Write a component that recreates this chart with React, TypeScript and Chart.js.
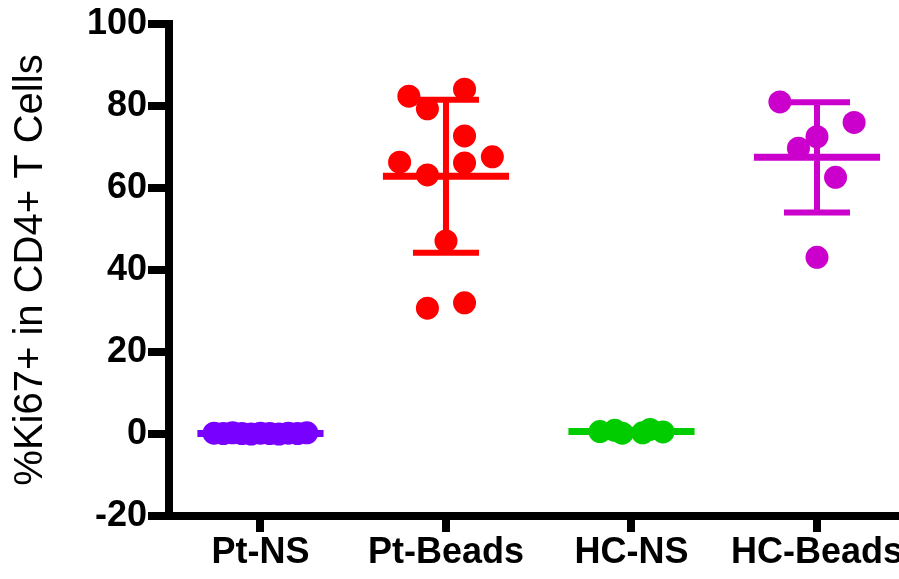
import React, { useEffect, useRef } from 'react';
import { Chart, registerables } from 'chart.js';

Chart.register(...registerables);

// ---- data ----
const categories = ['Pt-NS', 'Pt-Beads', 'HC-NS', 'HC-Beads'];
const groupColors = ['#7700FF', '#FF0000', '#00CC00', '#CC00CC'];

const ptNsValues = [0.2, 0.1, 0.3, 0.1, 0.0, 0.2, 0.1, 0.0, 0.2, 0.1, 0.3];
const ptNsJitter = [-0.25, -0.2, -0.15, -0.1, -0.05, 0, 0.05, 0.1, 0.15, 0.2, 0.25];

const ptBeadsValues = [82.4, 84.1, 79.3, 72.7, 66.3, 67.6, 66.1, 63.2, 47.1, 30.7, 32.0];
const ptBeadsJitter = [-0.2, 0.1, -0.1, 0.1, -0.25, 0.25, 0.1, -0.1, 0, -0.1, 0.1];

const hcNsValues = [0.6, 0.9, 0.2, 0.3, 1.1, 0.5];
const hcNsJitter = [-0.17, -0.09, -0.05, 0.06, 0.1, 0.17];

const hcBeadsValues = [81.0, 76.0, 72.5, 69.7, 62.6, 43.1];
const hcBeadsJitter = [-0.2, 0.2, 0, -0.1, 0.1, 0];

const yTicks = [-20, 0, 20, 40, 60, 80, 100];
const yTitle = '%Ki67+ in CD4+ T Cells';

// ---- layout / style constants ----
const X_MIN = -0.493;
const X_MAX = 3.442;
const MEAN_HALF = 0.34;
const CAP_HALF = 0.178;
const FONT = "'Liberation Sans', Arial, Helvetica, sans-serif";

function mean(a: number[]) {
  return a.reduce((s, v) => s + v, 0) / a.length;
}
function sd(a: number[]) {
  const m = mean(a);
  return Math.sqrt(a.reduce((s, v) => s + (v - m) * (v - m), 0) / (a.length - 1));
}

export default function App() {
  const ref = useRef<HTMLCanvasElement>(null);

  useEffect(() => {
    if (!ref.current) return;
    const groups = [
      { values: ptNsValues, jitter: ptNsJitter },
      { values: ptBeadsValues, jitter: ptBeadsJitter },
      { values: hcNsValues, jitter: hcNsJitter },
      { values: hcBeadsValues, jitter: hcBeadsJitter },
    ];
    const datasets: any[] = [];
    groups.forEach((g, i) => {
      const m = mean(g.values);
      const s = sd(g.values);
      const c = groupColors[i];
      datasets.push({
        type: 'scatter',
        label: categories[i],
        data: g.values.map((v, k) => ({ x: i + g.jitter[k], y: v })),
        backgroundColor: c,
        borderWidth: 0,
        pointRadius: 11.5,
        pointHoverRadius: 11.5,
        order: 1,
      });
      datasets.push({
        type: 'line',
        label: categories[i] + ' mean',
        data: [
          { x: i - MEAN_HALF, y: m },
          { x: i + MEAN_HALF, y: m },
        ],
        borderColor: c,
        borderWidth: 7,
        pointRadius: 0,
        showLine: true,
        order: 2,
      });
      datasets.push({
        type: 'line',
        label: categories[i] + ' sd',
        data: [
          { x: i, y: m - s },
          { x: i, y: m + s },
          { x: i, y: null },
          { x: i - CAP_HALF, y: m + s },
          { x: i + CAP_HALF, y: m + s },
          { x: i, y: null },
          { x: i - CAP_HALF, y: m - s },
          { x: i + CAP_HALF, y: m - s },
        ],
        borderColor: c,
        borderWidth: 6,
        pointRadius: 0,
        showLine: true,
        spanGaps: false,
        order: 3,
      });
    });

    const chart = new Chart(ref.current, {
      type: 'scatter',
      data: { datasets },
      options: {
        animation: false,
        responsive: false,
        devicePixelRatio: 1,
        layout: { autoPadding: false, padding: { top: 24, left: 0, right: 0, bottom: 0 } },
        plugins: {
          legend: { display: false },
          tooltip: { enabled: false },
        },
        scales: {
          x: {
            type: 'linear',
            min: X_MIN,
            max: X_MAX,
            afterFit: (s: any) => {
              s.paddingLeft = 0;
              s.paddingRight = 0;
              s.height = 63;
            },
            border: { display: true, width: 8, color: '#000' },
            grid: {
              display: true,
              drawOnChartArea: false,
              drawTicks: true,
              tickLength: 16,
              lineWidth: 8,
              color: '#000',
            },
            ticks: {
              stepSize: 1,
              includeBounds: false,
              autoSkip: false,
              maxRotation: 0,
              minRotation: 0,
              padding: 3,
              color: '#000',
              font: { family: FONT, size: 36, weight: 'bold', lineHeight: 1.0 },
              callback: (v: any) => (Number.isInteger(v) && categories[v] ? categories[v] : ''),
            },
          },
          y: {
            type: 'linear',
            min: yTicks[0],
            max: yTicks[yTicks.length - 1],
            afterFit: (s: any) => {
              s.width = 169;
              s.paddingTop = 0;
              s.paddingBottom = 0;
            },
            border: { display: true, width: 8, color: '#000' },
            grid: {
              display: true,
              drawOnChartArea: false,
              drawTicks: true,
              tickLength: 21,
              lineWidth: 8,
              color: '#000',
            },
            ticks: {
              stepSize: yTicks[1] - yTicks[0],
              padding: 1,
              color: '#000',
              font: { family: FONT, size: 36, weight: 'bold' },
            },
            title: {
              display: true,
              text: yTitle,
              color: '#000',
              font: { family: FONT, size: 40, weight: 'normal' },
              padding: { top: 7, bottom: 0 },
            },
          },
        },
      },
    } as any);
    return () => chart.destroy();
  }, []);

  return (
    <div style={{ position: 'absolute', left: 0, top: 0, width: 899, height: 579 }}>
      <canvas ref={ref} width={899} height={579} />
    </div>
  );
}
